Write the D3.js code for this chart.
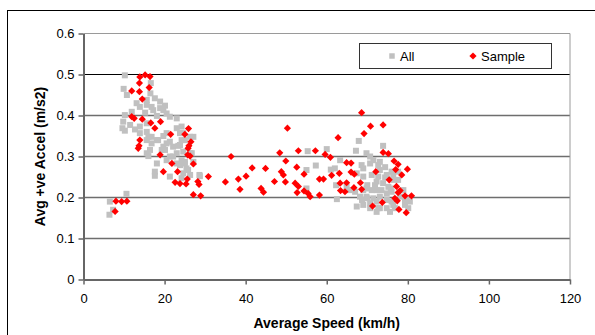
<!DOCTYPE html>
<html>
<head>
<meta charset="utf-8">
<script src="https://cdn.jsdelivr.net/npm/d3@7"></script>
<style>
  body { margin: 0; background: #fff; }
  text { font-family: "Liberation Sans", Arial, sans-serif; }
</style>
</head>
<body>
<div id="chart"></div>
<script>
// All trips: [speed km/h, accel m/s2]
const allSpeed = [10.2,9.9,10.7,16.6,16.5,17.6,18.9,20.1,15.6,15.6,16.8,17.2,18.9,13.1,13.9,15.2,11.9,18.1,19.7,20.5,21.3,23.0,10.2,9.8,9.6,11.5,12.7,13.9,15.6,15.6,16.8,18.4,19.7,20.5,19.3,23.0,23.8,24.2,23.4,25.0,27.1,23.0,16.4,15.6,21.3,24.6,13.9,15.6,18.1,20.5,22.1,19.7,10.2,16.0,16.8,21.3,23.8,26.3,16.0,18.1,17.6,17.6,20.1,22.1,24.2,23.8,25.4,24.6,26.3,28.6,10.6,6.5,6.4,7.3,20.5,23.0,25.0,24.2,21.3,24.2,24.6,26.3,26.7,25.0,25.8,28.7,27.1,
  55.3,60.0,55.0,57.3,61.0,62.3,62.5,55.0,62.0,63.3,
  67.9,67.2,69.8,70.7,73.9,71.5,73.1,74.4,68.6,70.7,72.7,69.0,71.1,72.7,74.8,76.0,72.3,73.9,75.2,76.4,69.8,71.1,72.3,73.5,74.8,76.0,68.2,69.8,71.5,73.1,74.8,76.0,78.9,79.3,80.5,67.4,69.0,70.7,72.7,74.8,76.8,80.1,75.6,72.3,78.1,64.9,65.7,77.6,73.1,67.0,68.7,76.4,67.4,69.0,74.4,70.0,71.9,75.8,69.0,70.7,72.3,73.1,76.4,77.6,79.3,79.7,70.0];
const allAccel = [0.498,0.465,0.450,0.479,0.454,0.442,0.434,0.424,0.438,0.426,0.421,0.413,0.418,0.430,0.421,0.407,0.409,0.399,0.413,0.405,0.397,0.393,0.401,0.385,0.369,0.377,0.366,0.373,0.381,0.360,0.348,0.340,0.350,0.332,0.316,0.369,0.357,0.340,0.326,0.340,0.348,0.308,0.316,0.308,0.300,0.312,0.357,0.340,0.340,0.357,0.324,0.324,0.363,0.348,0.332,0.336,0.328,0.308,0.301,0.283,0.263,0.253,0.316,0.300,0.291,0.279,0.271,0.259,0.255,0.255,0.209,0.190,0.158,0.170,0.291,0.283,0.287,0.247,0.251,0.373,0.357,0.348,0.308,0.283,0.267,0.252,0.287,
  0.313,0.318,0.267,0.278,0.268,0.230,0.196,0.222,0.271,0.291,
  0.338,0.314,0.308,0.300,0.326,0.291,0.287,0.274,0.279,0.283,0.279,0.251,0.255,0.251,0.255,0.263,0.239,0.235,0.226,0.243,0.222,0.218,0.218,0.218,0.210,0.214,0.202,0.202,0.198,0.202,0.194,0.190,0.218,0.194,0.190,0.178,0.182,0.174,0.174,0.174,0.174,0.174,0.165,0.165,0.202,0.226,0.218,0.263,0.267,0.214,0.194,0.182,0.259,0.271,0.249,0.230,0.230,0.222,0.218,0.186,0.190,0.174,0.255,0.243,0.182,0.198,0.198];

// Sample trips
const sampleSpeed = [13.9,15.2,16.4,13.8,11.9,13.8,16.2,14.5,11.9,12.5,14.5,16.6,17.6,19.0,21.5,25.9,25.0,13.9,13.7,13.5,26.5,26.0,25.8,18.9,25.7,26.3,27.1,21.8,19.7,23.2,22.6,23.8,25.3,25.6,28.2,28.5,30.8,27.1,28.9,8.0,9.4,10.7,7.8,
  35.0,36.4,38.2,38.6,40.1,41.6,43.8,44.4,44.9,47.1,48.4,49.9,48.8,49.3,49.8,50.3,52.6,53.0,52.2,53.0,52.7,54.4,54.4,55.4,55.9,57.2,58.2,59.2,58.2,59.6,60.9,61.2,62.8,63.1,63.3,63.4,
  64.5,64.9,66.0,66.0,66.8,64.9,68.3,68.6,66.7,68.6,70.8,73.9,69.2,72.1,73.9,75.2,76.6,77.6,77.0,79.9,78.5,75.4,77.2,78.1,77.6,79.3,80.9,76.8,77.4,73.7,71.3,77.8,79.6];
const sampleAccel = [0.494,0.499,0.495,0.479,0.460,0.458,0.468,0.440,0.397,0.393,0.391,0.382,0.369,0.385,0.354,0.368,0.354,0.340,0.326,0.320,0.336,0.326,0.320,0.304,0.304,0.301,0.282,0.283,0.263,0.263,0.237,0.234,0.233,0.245,0.239,0.232,0.251,0.207,0.204,0.191,0.190,0.191,0.166,
  0.238,0.300,0.245,0.220,0.252,0.272,0.222,0.213,0.271,0.239,0.309,0.289,0.263,0.255,0.238,0.369,0.274,0.314,0.235,0.227,0.212,0.257,0.216,0.210,0.202,0.314,0.245,0.245,0.206,0.305,0.298,0.254,0.346,0.259,0.235,0.217,
  0.214,0.285,0.284,0.262,0.257,0.236,0.236,0.220,0.224,0.407,0.374,0.377,0.356,0.263,0.310,0.307,0.289,0.281,0.268,0.269,0.255,0.243,0.227,0.217,0.212,0.204,0.204,0.198,0.192,0.188,0.179,0.171,0.163];

const xTicks = [0, 20, 40, 60, 80, 100, 120];
const yTicks = [0, 0.1, 0.2, 0.3, 0.4, 0.5, 0.6];

const width = 595, height = 335;
const plot = { left: 83.5, right: 570, top: 33.5, bottom: 279.5 };

const svg = d3.select("#chart").append("svg")
    .attr("width", width)
    .attr("height", height);

svg.append("rect").attr("width", width).attr("height", height).attr("fill", "#fff");

// outer chart border (only top/left visible in frame)
svg.append("rect")
    .attr("x", 7.5).attr("y", 10.5)
    .attr("width", width + 20).attr("height", height + 20)
    .attr("fill", "none").attr("stroke", "#000");

const x = d3.scaleLinear().domain([0, 120]).range([plot.left, plot.right]);
const y = d3.scaleLinear().domain([0, 0.6]).range([plot.bottom, plot.top]);

// gridlines
svg.append("g")
    .selectAll("line")
    .data(yTicks.filter(d => d > 0 && d < 0.6))
    .join("line")
    .attr("x1", plot.left).attr("x2", plot.right)
    .attr("y1", d => y(d)).attr("y2", d => y(d))
    .attr("stroke", d => d === 0.5 ? "#000" : "#6e6e6e")
    .attr("stroke-width", d => d === 0.5 ? 1 : 1.5);

// plot area border top/right
svg.append("path")
    .attr("d", `M${plot.left},${plot.top}H${plot.right}V${plot.bottom}`)
    .attr("fill", "none").attr("stroke", "#9a9a9a");

// axes
const xAxis = svg.append("g")
    .attr("transform", `translate(0,${plot.bottom})`)
    .call(d3.axisBottom(x).tickValues(xTicks).tickSize(5).tickSizeOuter(0).tickPadding(9).tickFormat(d3.format("d")));
const yAxis = svg.append("g")
    .attr("transform", `translate(${plot.left},0)`)
    .call(d3.axisLeft(y).tickValues(yTicks).tickSize(5).tickSizeOuter(0).tickPadding(4).tickFormat(d => d === 0 ? "0" : d3.format(".1f")(d)));

[xAxis, yAxis].forEach(a => {
    a.select(".domain").attr("stroke", "#666").attr("stroke-width", 2);
    a.selectAll(".tick line").attr("stroke", "#666").attr("stroke-width", 1.5);
    a.selectAll(".tick text")
        .attr("fill", "#000")
        .style("font-family", "'Liberation Sans', Arial, sans-serif")
        .style("font-size", "13px");
});

// axis titles
svg.append("text")
    .attr("x", (plot.left + plot.right) / 2)
    .attr("y", 328)
    .attr("text-anchor", "middle")
    .style("font-size", "14px").style("font-weight", "bold")
    .text("Average Speed (km/h)");

svg.append("text")
    .attr("transform", `translate(45,${(plot.top + plot.bottom) / 2}) rotate(-90)`)
    .attr("text-anchor", "middle")
    .style("font-size", "14px").style("font-weight", "bold")
    .text("Avg +ve Accel (m/s2)");

const square = d3.symbol().type(d3.symbolSquare).size(36);
const diamond = d3.symbol().type(d3.symbolSquare).size(26);

const allData = allSpeed.map((s, i) => [s, allAccel[i]]);
const sampleData = sampleSpeed.map((s, i) => [s, sampleAccel[i]]);

svg.append("g")
    .selectAll("path")
    .data(allData)
    .join("path")
    .attr("d", square)
    .attr("transform", d => `translate(${x(d[0])},${y(d[1])})`)
    .attr("fill", "#c0c0c0");

svg.append("g")
    .selectAll("path")
    .data(sampleData)
    .join("path")
    .attr("d", diamond)
    .attr("transform", d => `translate(${x(d[0])},${y(d[1])}) rotate(45)`)
    .attr("fill", "#ff0000");

// legend
const legend = svg.append("g");
legend.append("rect")
    .attr("x", 359.5).attr("y", 43.5).attr("width", 192).attr("height", 25)
    .attr("fill", "#fff").attr("stroke", "#333");
legend.append("path").attr("d", d3.symbol().type(d3.symbolSquare).size(30))
    .attr("transform", "translate(392,56)").attr("fill", "#c0c0c0");
legend.append("text").attr("x", 400).attr("y", 60.5).style("font-size", "13px").text("All");
legend.append("path").attr("d", diamond)
    .attr("transform", "translate(473,56) rotate(45)").attr("fill", "#ff0000");
legend.append("text").attr("x", 481).attr("y", 60.5).style("font-size", "13px").text("Sample");
</script>
</body>
</html>
